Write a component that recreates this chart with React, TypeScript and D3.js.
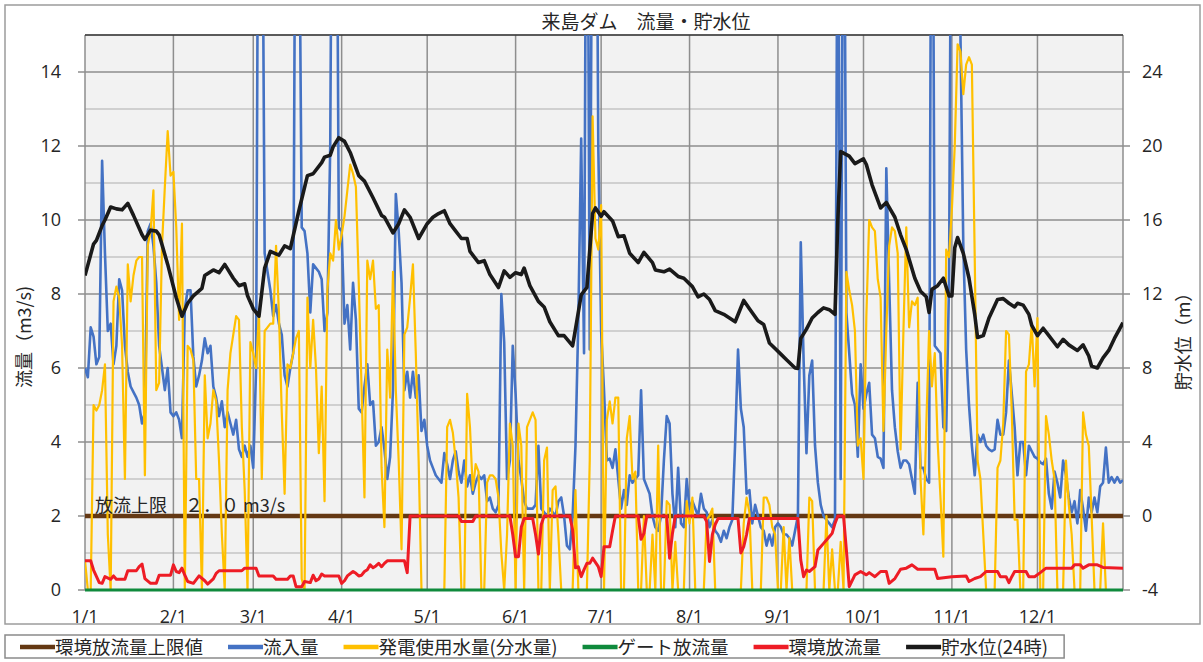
import React, { useRef, useEffect } from 'react';
import * as d3 from 'd3';

// month starts (day index in a 365-day year) and their labels
const monthStartDays = [0, 31, 59, 90, 120, 151, 181, 212, 243, 273, 304, 334];
const monthLabels = ['1/1', '2/1', '3/1', '4/1', '5/1', '6/1', '7/1', '8/1', '9/1', '10/1', '11/1', '12/1'];
const lastDay = 364;

const flowTicks = [0, 2, 4, 6, 8, 10, 12, 14];
const levelTicks = [-4, 0, 4, 8, 12, 16, 20, 24];

const releaseLimit = 2.0;
const gateRelease = 0;

// 流入量 (daily, m3/s) – values above 15 run off the chart
const inflow = [
  // Jan
  6.0, 5.75, 7.1, 6.85, 6.1, 6.3, 11.6, 9.1, 7.0, 7.2, 6.1, 6.6, 8.4, 8.1, 6.6, 5.9, 5.5, 5.35, 5.2, 5.0,
  4.5, 4.8, 9.7, 9.9, 9.3, 8.3, 6.6, 6.0, 5.4, 6.0, 4.8,
  // Feb
  4.7, 4.8, 4.6, 4.1, 7.6, 8.1, 8.1, 6.3, 5.5, 5.8, 6.2, 6.8, 6.4, 6.6, 5.5, 5.2, 4.7, 5.1, 4.4, 4.8,
  4.5, 4.2, 4.6, 3.8, 3.6, 3.9, 3.6, 3.9,
  // Mar
  3.3, 6.0, 25, 22, 9.1, 8.6, 8.1, 7.4, 7.7, 7.2, 6.9, 5.8, 5.5, 6.0, 6.4, 24, 20, 9.8, 9.7, 9.1,
  7.5, 8.8, 8.7, 8.6, 8.4, 7.0, 7.5, 12, 26, 24, 9.8,
  // Apr
  9.7, 7.2, 7.7, 6.5, 8.3, 7.3, 4.9, 4.8, 5.5, 6.1, 5.0, 5.1, 3.9, 4.0, 4.4, 3.8, 3.0, 3.6, 5.4, 10.7,
  9.7, 8.3, 5.4, 5.9, 5.2, 5.9, 5.2, 5.8, 4.3, 4.6,
  // May
  3.9, 3.5, 3.3, 3.1, 3.0, 2.9, 3.7, 3.4, 3.0, 3.5, 3.75, 3.2, 2.9, 3.5, 2.8, 3.1, 2.6, 2.9, 3.1, 3.0,
  3.1, 2.4, 2.5, 2.2, 2.1, 2.3, 8.0, 6.7, 3.0, 3.5, 6.6,
  // Jun
  5.3, 3.5, 3.0, 2.4, 2.2, 2.2, 2.2, 2.3, 3.9, 2.2, 2.1, 2.0, 2.2, 2.1, 2.0, 2.4, 2.5, 2.0, 1.2, 1.1,
  2.0, 3.9, 7.3, 12.2, 6.4, 25, 6.5, 22, 25, 12,
  // Jul
  7.0, 5.4, 3.5, 3.55, 3.3, 3.8, 3.0, 2.2, 2.7, 2.3, 3.1, 2.9, 3.0, 3.1, 5.4, 3.0, 2.8, 2.6, 2.0, 1.7,
  1.6, 2.0, 3.5, 4.7, 4.5, 2.6, 1.7, 3.3, 1.8, 1.7, 3.0,
  // Aug
  2.2, 2.4, 2.2, 2.0, 2.6, 2.2, 2.1, 1.7, 1.9, 1.6, 1.5, 1.3, 1.6, 1.4, 1.7, 1.9, 4.0, 6.5, 4.9, 4.4,
  2.6, 2.7, 1.8, 2.3, 2.0, 1.7, 1.6, 1.2, 1.5, 1.2, 1.7,
  // Sep
  1.8, 1.7, 1.5, 1.5, 1.4, 1.2, 1.6, 2.0, 9.4, 6.2, 3.7, 5.8, 6.2, 3.9, 2.9, 2.3, 2.0, 1.9, 1.8, 1.7,
  1.9, 22, 3.0, 24, 7.5, 6.4, 5.3, 5.0, 3.6, 6.1,
  // Oct
  4.9, 5.3, 5.6, 4.2, 4.1, 3.6, 3.55, 3.3, 11.4, 8.3, 5.4, 4.4, 3.75, 3.3, 3.5, 3.5, 3.4, 3.0, 2.6, 5.6,
  3.3, 3.3, 3.0, 2.9, 26, 6.6, 6.5, 6.4, 4.4, 4.3, 8.3,
  // Nov
  24, 26, 24, 15, 9.3, 6.5, 5.0, 3.9, 3.1, 4.2, 4.0, 4.2, 3.9, 3.8, 3.75, 3.8, 4.6, 4.2, 4.2, 4.8,
  6.2, 5.3, 4.4, 3.1, 4.0, 4.0, 3.1, 3.9, 3.75, 3.6,
  // Dec
  3.55, 3.45, 3.4, 3.55, 2.6, 2.2, 3.2, 2.9, 2.5, 3.5, 3.1, 2.5, 2.1, 2.4, 1.8, 2.7, 2.2, 1.6, 2.5, 2.1,
  2.5, 2.1, 2.8, 2.9, 3.85, 2.9, 3.05, 2.9, 3.05, 2.9, 2.97,
];

// 発電使用水量(分水量) (daily, m3/s)
const powerUse = [
  // Jan
  0.8, 0, 0, 5.0, 4.85, 5.0, 5.4, 6.1, 1.5, 0, 7.8, 8.2, 7.9, 6.6, 3.0, 8.8, 7.8, 8.5, 8.9, 9.0,
  9.0, 3.1, 9.3, 9.7, 10.8, 5.4, 5.6, 9.3, 10.9, 12.4, 11.2,
  // Feb
  11.3, 9.8, 7.3, 9.9, 0, 6.6, 6.5, 6.2, 3.0, 3.0, 0, 5.8, 4.1, 4.5, 5.4, 5.1, 3.5, 1.5, 0, 5.4,
  6.4, 6.9, 7.4, 7.3, 4.4, 2.7, 0, 6.7,
  // Mar
  6.4, 6.0, 7.5, 3.0, 7.0, 7.1, 7.2, 7.2, 9.3, 7.5, 4.8, 2.6, 6.1, 6.0, 6.4, 6.8, 7.0, 0.3, 0, 7.9,
  6.0, 7.3, 6.0, 3.7, 5.5, 2.4, 8.1, 9.1, 8.9, 10.0, 9.2,
  // Apr
  9.6, 10.1, 10.8, 11.5, 11.25, 10.9, 8.3, 5.4, 2.5, 8.9, 8.4, 8.9, 7.6, 7.7, 3.3, 1.7, 6.5, 5.2, 8.6, 5.4,
  3.5, 1.1, 6.9, 7.1, 7.9, 8.8, 6.4, 3.5, 0, 0,
  // May
  0, 0, 0, 0, 0, 0, 0, 4.4, 4.6, 4.25, 3.5, 2.5, 0, 0, 5.3, 4.4, 2.7, 3.4, 3.2, 0,
  0, 2.9, 3.1, 3.1, 3.0, 2.5, 1.0, 0, 1.5, 4.5, 3.9,
  // Jun
  0, 4.5, 3.9, 0, 4.4, 4.6, 4.8, 4.6, 0, 0, 3.5, 3.85, 0, 2.7, 2.8, 1.5, 0, 0, 0, 0,
  0, 2.7, 0, 0, 0, 0, 3.5, 12.8, 9.5, 9.2,
  // Jul
  10.4, 0, 4.6, 5.1, 4.5, 5.2, 5.2, 0, 0, 4.1, 4.7, 3.0, 3.2, 0, 0, 2.0, 0, 0, 1.5, 0,
  3.9, 0, 0, 2.4, 2.3, 0, 1.3, 0, 0, 0, 2.4,
  // Aug
  1.8, 2.5, 0, 0, 0, 0, 1.9, 2.0, 2.2, 0, 0, 0, 0, 0, 0, 0, 0, 0, 0, 1.8,
  2.5, 2.1, 0, 0, 0, 0, 2.5, 2.5, 2.3, 1.7, 1.5,
  // Sep
  0, 0, 1.7, 0, 1.4, 0, 0, 0, 0, 0, 0, 2.5, 2.4, 0, 0, 0, 0, 2.0, 0, 1.1,
  0, 0, 1.3, 0, 8.6, 8.1, 7.7, 7.0, 3.9, 4.1,
  // Oct
  3.0, 7.4, 10.0, 9.8, 9.7, 8.4, 7.9, 4.3, 7.0, 9.3, 9.8, 9.7, 9.1, 3.8, 7.0, 9.8, 7.1, 7.8, 7.7, 7.9,
  3.0, 1.5, 4.4, 7.0, 5.5, 6.4, 4.0, 2.5, 0.9, 9.2, 9.0,
  // Nov
  10.3, 12.0, 14.75, 14.55, 13.4, 14.2, 14.4, 14.2, 9.0, 3.5, 3.0, 1.5, 0, 0, 0, 0, 3.3, 3.5, 4.5, 7.0,
  6.9, 4.8, 1.9, 1.9, 0, 0, 5.9, 6.1, 7.2, 5.5,
  // Dec
  7.35, 0, 0, 4.7, 4.2, 3.5, 3.0, 0, 0, 0, 3.5, 2.3, 1.5, 0, 0, 0, 4.8, 4.2, 3.9, 2.0,
  0, 0, 0, 1.8, 0, 0, 0, 0, 0, 0, 0,
];

// 環境放流量 [day, m3/s]
const envRelease = [
  [0, 0.79], [2, 0.79], [3, 0.54], [5, 0.2], [6, 0.18], [7, 0.36], [9, 0.29], [10, 0.38], [11, 0.29],
  [14, 0.29], [15, 0.52], [18, 0.52], [19, 0.63], [20, 0.7], [21, 0.31], [23, 0.18], [25, 0.18],
  [26, 0.4], [30, 0.4], [31, 0.68], [32, 0.5], [33, 0.47], [34, 0.59], [35, 0.4], [36, 0.23],
  [38, 0.18], [40, 0.38], [42, 0.25], [43, 0.16], [45, 0.3], [46, 0.45], [47, 0.52], [55, 0.52],
  [56, 0.59], [60, 0.59], [61, 0.38], [66, 0.38], [67, 0.29], [71, 0.29], [72, 0.38], [73, 0.38],
  [74, 0.09], [76, 0.09], [77, 0.23], [79, 0.2], [80, 0.4], [81, 0.25], [82, 0.3], [83, 0.43],
  [84, 0.38], [89, 0.38], [90, 0.18], [91, 0.25], [92, 0.38], [94, 0.5], [95, 0.45], [96, 0.38],
  [97, 0.4], [98, 0.5], [99, 0.55], [100, 0.68], [101, 0.6], [102, 0.65], [103, 0.72], [104, 0.63],
  [105, 0.72], [106, 0.79], [112, 0.79], [113, 0.47], [114, 2.0], [131, 2.0], [132, 1.85], [136, 1.85],
  [137, 2.0], [149, 2.0], [150, 1.5], [151, 0.9], [152, 0.9], [153, 1.7], [154, 1.93], [157, 1.93],
  [158, 1.5], [159, 0.97], [160, 1.77], [161, 2.0], [170, 2.0], [171, 1.62], [172, 0.6], [173, 0.63],
  [174, 0.36], [175, 0.55], [176, 0.72], [177, 0.72], [178, 0.86], [180, 0.63], [181, 0.36],
  [182, 1.17], [184, 1.17], [185, 1.6], [186, 2.0], [194, 2.0], [195, 1.37], [196, 1.53], [197, 2.0],
  [204, 2.0], [205, 0.86], [206, 1.53], [207, 2.0], [217, 2.0], [218, 1.85], [219, 0.77], [220, 1.5],
  [221, 1.77], [222, 1.93], [229, 1.93], [230, 1.0], [231, 1.17], [232, 1.5], [233, 1.93], [250, 1.93],
  [251, 0.81], [252, 0.36], [253, 0.54], [254, 0.5], [256, 0.63], [257, 1.08], [259, 1.26],
  [261, 1.44], [262, 1.53], [263, 1.8], [264, 2.0], [266, 2.0], [267, 1.08], [268, 0.09], [270, 0.41],
  [272, 0.5], [274, 0.41], [275, 0.47], [277, 0.36], [279, 0.5], [281, 0.5], [282, 0.18], [284, 0.31],
  [286, 0.56], [288, 0.59], [290, 0.68], [292, 0.56], [298, 0.56], [299, 0.31], [304, 0.36],
  [309, 0.38], [310, 0.23], [312, 0.31], [314, 0.36], [316, 0.5], [320, 0.5], [321, 0.36], [323, 0.36],
  [324, 0.2], [325, 0.36], [326, 0.5], [330, 0.5], [331, 0.36], [333, 0.36], [335, 0.47], [337, 0.59],
  [346, 0.59], [347, 0.68], [349, 0.68], [350, 0.59], [352, 0.68], [355, 0.68], [357, 0.61], [364, 0.59],
];

// 貯水位(24時) [day, m] – right axis
const storageLevel = [
  [0, 13.0], [3, 14.7], [4, 14.9], [6, 15.7], [7, 16.0], [9, 16.7], [11, 16.6], [13, 16.55], [15, 16.9],
  [17, 16.25], [20, 15.2], [21, 14.95], [23, 15.45], [25, 15.4], [26, 15.2], [29, 13.6], [32, 11.8],
  [34, 10.8], [36, 11.5], [38, 11.9], [41, 12.3], [42, 13.0], [45, 13.3], [47, 13.15], [49, 13.6],
  [52, 12.85], [54, 12.45], [56, 12.55], [57, 11.9], [59, 11.2], [61, 10.8], [63, 13.4], [65, 14.3],
  [68, 14.1], [70, 14.6], [72, 14.45], [75, 16.5], [78, 18.4], [80, 18.5], [83, 19.1], [84, 19.4],
  [86, 19.5], [87, 19.95], [89, 20.45], [91, 20.25], [93, 19.65], [96, 18.4], [98, 18.1], [101, 17.2],
  [104, 16.25], [105, 16.15], [108, 15.3], [110, 15.8], [112, 16.55], [114, 16.15], [117, 15.0],
  [120, 15.8], [122, 16.15], [124, 16.35], [126, 16.5], [128, 15.8], [130, 15.4], [132, 15.0],
  [134, 15.0], [135, 14.3], [138, 13.7], [140, 13.8], [142, 13.05], [145, 12.35], [147, 13.25],
  [149, 12.9], [151, 13.15], [153, 13.05], [154, 13.4], [156, 12.45], [159, 11.6], [161, 11.3],
  [163, 10.5], [166, 9.75], [168, 9.75], [171, 9.2], [172, 10.1], [174, 11.95], [176, 12.35],
  [178, 16.35], [179, 16.65], [181, 16.2], [182, 16.45], [185, 15.95], [187, 15.1], [189, 15.15],
  [191, 14.2], [194, 13.7], [196, 14.25], [199, 13.7], [200, 13.3], [203, 13.2], [205, 13.35],
  [208, 12.95], [210, 12.85], [213, 12.4], [215, 11.85], [217, 12.0], [219, 11.7], [221, 11.1],
  [224, 10.9], [228, 10.5], [231, 11.65], [233, 11.2], [236, 10.55], [238, 10.35], [240, 9.35],
  [241, 9.2], [244, 8.75], [246, 8.45], [249, 8.0], [250, 7.98], [251, 9.6], [253, 10.1], [255, 10.7],
  [257, 11.0], [259, 11.25], [261, 11.15], [263, 10.9], [264, 16.0], [265, 19.7], [268, 19.45],
  [270, 19.05], [273, 19.3], [274, 19.0], [276, 17.9], [279, 16.65], [281, 16.95], [284, 16.15],
  [286, 15.2], [288, 14.4], [291, 12.85], [293, 12.15], [295, 11.85], [296, 11.0], [297, 12.25],
  [299, 12.45], [301, 12.85], [303, 11.9], [304, 11.9], [305, 14.5], [306, 15.05], [308, 14.2],
  [310, 12.85], [312, 10.9], [313, 9.65], [315, 9.75], [317, 10.7], [320, 11.7], [322, 11.75],
  [324, 11.5], [326, 11.3], [327, 11.5], [329, 11.4], [331, 10.9], [332, 10.3], [334, 9.75],
  [336, 10.15], [338, 9.75], [341, 9.15], [343, 9.55], [345, 9.25], [348, 8.95], [350, 9.25],
  [352, 8.65], [353, 8.1], [355, 8.0], [357, 8.55], [359, 8.95], [361, 9.6], [364, 10.45],
];

const legendLabels = ['環境放流量上限値', '流入量', '発電使用水量(分水量)', 'ゲート放流量', '環境放流量', '貯水位(24時)'];
const legendColors = ['#643813', '#4472c4', '#ffc000', '#0f8a3c', '#ee1c25', '#1a1a1a'];

const jpFont = '"Noto Sans CJK JP", "Noto Sans", sans-serif';
const numFont = '"Open Sans", "Noto Sans", sans-serif';

export default function App() {
  const svgRef = useRef(null);

  useEffect(() => {
    const W = 1203, H = 662;
    const plot = { left: 85, right: 1123, top: 35, bottom: 590 };

    const svg = d3.select(svgRef.current);
    svg.selectAll('*').remove();

    const x = d3.scaleLinear().domain([0, lastDay]).range([plot.left, plot.right]);
    const yL = d3.scaleLinear().domain([0, 15]).range([plot.bottom, plot.top]);
    const yR = d3.scaleLinear().domain([-4, 26]).range([plot.bottom, plot.top]);

    // chart frame
    svg.append('rect')
      .attr('x', 5).attr('y', 5).attr('width', 1195).attr('height', 619)
      .attr('fill', '#fff').attr('stroke', '#9c9c9c').attr('stroke-width', 1.5);

    // plot area
    svg.append('rect')
      .attr('x', plot.left).attr('y', plot.top)
      .attr('width', plot.right - plot.left).attr('height', plot.bottom - plot.top)
      .attr('fill', '#f2f2f2');

    // horizontal grid (every 1 m3/s, darker on labelled values)
    svg.append('g')
      .selectAll('line')
      .data(d3.range(0, 16))
      .enter()
      .append('line')
      .attr('x1', plot.left).attr('x2', plot.right)
      .attr('y1', d => yL(d)).attr('y2', d => yL(d))
      .attr('stroke', d => (d % 2 === 0 ? '#8e8e8e' : '#c4c4c4'))
      .attr('stroke-width', 1.5);

    // vertical grid at month starts
    svg.append('g')
      .selectAll('line')
      .data(monthStartDays.concat([lastDay]))
      .enter()
      .append('line')
      .attr('x1', d => x(d)).attr('x2', d => x(d))
      .attr('y1', plot.top).attr('y2', plot.bottom)
      .attr('stroke', '#8e8e8e')
      .attr('stroke-width', 1.5);

    // top border of plot area
    svg.append('line')
      .attr('x1', plot.left).attr('x2', plot.right)
      .attr('y1', plot.top).attr('y2', plot.top)
      .attr('stroke', '#333').attr('stroke-width', 1.5);

    // tick marks
    svg.append('g').selectAll('line').data(flowTicks).enter().append('line')
      .attr('x1', plot.left - 7).attr('x2', plot.left)
      .attr('y1', d => yL(d)).attr('y2', d => yL(d))
      .attr('stroke', '#8e8e8e').attr('stroke-width', 1.5);
    svg.append('g').selectAll('line').data(levelTicks).enter().append('line')
      .attr('x1', plot.right).attr('x2', plot.right + 7)
      .attr('y1', d => yR(d)).attr('y2', d => yR(d))
      .attr('stroke', '#8e8e8e').attr('stroke-width', 1.5);

    // tick labels
    svg.append('g').selectAll('text').data(flowTicks).enter().append('text')
      .attr('x', 61).attr('y', d => yL(d)).attr('dy', '0.36em')
      .attr('text-anchor', 'end')
      .attr('font-family', numFont).attr('font-size', 18).attr('fill', '#262626')
      .text(d => d);
    svg.append('g').selectAll('text').data(levelTicks).enter().append('text')
      .attr('x', 1142).attr('y', d => yR(d)).attr('dy', '0.36em')
      .attr('text-anchor', 'start')
      .attr('font-family', numFont).attr('font-size', 18).attr('fill', '#262626')
      .text(d => d);
    svg.append('g').selectAll('text').data(monthStartDays).enter().append('text')
      .attr('x', d => x(d)).attr('y', 617).attr('dy', '0.36em')
      .attr('text-anchor', 'middle')
      .attr('font-family', numFont).attr('font-size', 18).attr('fill', '#262626')
      .text((d, i) => monthLabels[i]);

    // clip for the series
    svg.append('defs').append('clipPath').attr('id', 'plot-clip')
      .append('rect')
      .attr('x', plot.left).attr('y', plot.top)
      .attr('width', plot.right - plot.left).attr('height', plot.bottom - plot.top + 6);

    const series = svg.append('g').attr('clip-path', 'url(#plot-clip)');

    const lineL = d3.line().x(d => x(d[0])).y(d => yL(d[1]));
    const lineR = d3.line().x(d => x(d[0])).y(d => yR(d[1]));
    const daily = arr => arr.map((v, i) => [i, v]);

    const addPath = (pts, gen, color, width) => {
      series.append('path')
        .attr('d', gen(pts))
        .attr('fill', 'none')
        .attr('stroke', color)
        .attr('stroke-width', width)
        .attr('stroke-linejoin', 'round');
    };

    addPath([[0, releaseLimit], [lastDay, releaseLimit]], lineL, legendColors[0], 4.5);
    addPath(daily(inflow), lineL, legendColors[1], 2.6);
    addPath(daily(powerUse), lineL, legendColors[2], 2.2);
    addPath([[0, gateRelease], [lastDay, gateRelease]], lineL, legendColors[3], 3);
    addPath(envRelease, lineL, legendColors[4], 3);
    addPath(storageLevel, lineR, legendColors[5], 3.6);

    // limit label
    svg.append('text')
      .attr('x', 95).attr('y', 512)
      .attr('font-family', jpFont).attr('font-size', 18).attr('fill', '#262626')
      .text('放流上限　２．０ m3/s');

    // title
    svg.append('text')
      .attr('x', 646).attr('y', 29)
      .attr('text-anchor', 'middle')
      .attr('font-family', jpFont).attr('font-size', 19).attr('fill', '#262626')
      .text('来島ダム　流量・貯水位');

    // axis titles
    svg.append('text')
      .attr('transform', 'translate(31, 337) rotate(-90)')
      .attr('text-anchor', 'middle')
      .attr('font-family', jpFont).attr('font-size', 18).attr('fill', '#262626')
      .text('流量（m3/s)');
    svg.append('text')
      .attr('transform', 'translate(1190, 337) rotate(-90)')
      .attr('text-anchor', 'middle')
      .attr('font-family', jpFont).attr('font-size', 18).attr('fill', '#262626')
      .text('貯水位（m）');

    // legend
    const legendTop = 635, legendBottom = 658;
    const legendG = svg.append('g');
    let cursor = 20;
    legendLabels.forEach((label, i) => {
      legendG.append('line')
        .attr('x1', cursor).attr('x2', cursor + 35)
        .attr('y1', 647).attr('y2', 647)
        .attr('stroke', legendColors[i]).attr('stroke-width', 4.5);
      const t = legendG.append('text')
        .attr('x', cursor + 35).attr('y', 654)
        .attr('font-family', jpFont).attr('font-size', 18.5).attr('fill', '#262626')
        .text(label);
      const w = t.node().getComputedTextLength();
      cursor += 35 + w + 25;
    });
    svg.insert('rect', 'g:last-child')
      .attr('x', 5).attr('y', legendTop)
      .attr('width', cursor - 25 + 16 - 5).attr('height', legendBottom - legendTop)
      .attr('fill', 'none').attr('stroke', '#8a8a8a').attr('stroke-width', 1.5);
  }, []);

  return (
    <svg
      ref={svgRef}
      width={1203}
      height={662}
      style={{ position: 'absolute', left: 0, top: 0, background: '#fff' }}
    />
  );
}
